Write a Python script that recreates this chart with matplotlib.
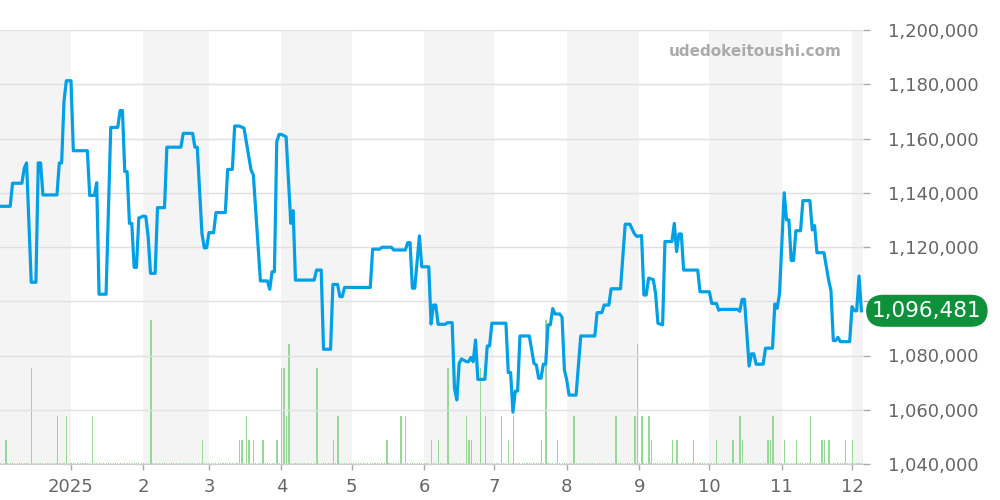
import numpy as np
import pandas as pd
import matplotlib
matplotlib.use('Agg')
import matplotlib.pyplot as plt
import matplotlib.dates as mdates
import matplotlib.transforms as mtransforms
from matplotlib.ticker import FuncFormatter, FixedLocator

start = pd.Timestamp('2024-12-01')

# day offsets from 2024-12-01 and prices (yen)
price_days = [1, 5, 6, 10, 11, 12, 14, 16, 17, 18, 19, 25, 26, 27, 28, 29, 31, 32, 38, 39,
              41, 42, 43, 46, 48, 51, 52, 53, 54, 55, 56, 57, 58, 59, 60, 62, 63, 64, 65, 67,
              68, 71, 72, 78, 79, 83, 84, 85, 87, 88, 89, 90, 92, 93, 97, 98, 100, 101, 103, 105,
              108, 109, 112, 115, 116, 117, 118, 119, 120, 121, 123, 125, 126, 127, 135, 136, 138, 139, 142, 143,
              145, 146, 147, 148, 159, 160, 163, 164, 168, 169, 174, 175, 176, 177, 178, 180, 181, 184, 185, 186,
              187, 188, 191, 192, 194, 195, 196, 197, 198, 200, 201, 202, 203, 204, 205, 208, 209, 210, 211, 217,
              218, 219, 220, 221, 222, 223, 227, 229, 230, 231, 232, 233, 234, 235, 236, 237, 238, 240, 241, 242,
              243, 244, 247, 249, 255, 256, 258, 259, 261, 262, 266, 268, 270, 272, 273, 275, 276, 277, 278, 280,
              281, 282, 284, 285, 288, 289, 290, 291, 292, 293, 299, 300, 304, 305, 307, 308, 309, 316, 317, 318,
              319, 321, 322, 323, 324, 327, 328, 331, 332, 333, 334, 336, 337, 338, 339, 340, 341, 343, 344, 347,
              348, 349, 350, 353, 355, 356, 357, 358, 359, 360, 364, 365, 366, 367, 368, 369]
price_values = [1135000, 1135000, 1143500, 1143500, 1149000, 1151000, 1107000, 1107000, 1151000, 1151000,
                1139200, 1139200, 1151000, 1151000, 1173600, 1181300, 1181300, 1155500, 1155500, 1139000,
                1139000, 1143700, 1102600, 1102600, 1164100, 1164100, 1170300, 1170300, 1147800, 1147800,
                1128700, 1128700, 1112500, 1112500, 1130700, 1131400, 1131200, 1123800, 1110300, 1110300,
                1134500, 1134500, 1156800, 1156800, 1161900, 1161900, 1156800, 1156800, 1125000, 1119700,
                1119700, 1125300, 1125300, 1132700, 1132700, 1148600, 1148600, 1164600, 1164600, 1163800,
                1148400, 1146500, 1107500, 1107500, 1104400, 1110900, 1110900, 1158800, 1161500, 1161500,
                1160600, 1128700, 1133400, 1107800, 1107800, 1111500, 1111500, 1082300, 1082300, 1106200,
                1106200, 1101700, 1101700, 1105100, 1105100, 1119200, 1119200, 1119900, 1119900, 1118900,
                1118900, 1121600, 1121600, 1104800, 1104800, 1124100, 1112700, 1112700, 1091600, 1098600,
                1098600, 1091500, 1091500, 1092100, 1092100, 1067900, 1063600, 1077100, 1078700, 1077800,
                1077700, 1079300, 1077700, 1085700, 1071200, 1071200, 1083500, 1083500, 1091900, 1091900,
                1073700, 1073700, 1059100, 1066900, 1066900, 1087200, 1087200, 1077100, 1076500, 1071600,
                1071600, 1076800, 1076800, 1091300, 1091300, 1097300, 1095300, 1095300, 1094100, 1074700,
                1071000, 1065400, 1065400, 1087200, 1087200, 1095800, 1095800, 1098600, 1098600, 1104600,
                1104600, 1128400, 1128400, 1124800, 1123900, 1124200, 1102300, 1102300, 1108500, 1108000,
                1102900, 1091900, 1091300, 1122000, 1122000, 1128700, 1118300, 1124800, 1124800, 1111500,
                1111500, 1103500, 1103500, 1099200, 1099200, 1096700, 1097000, 1097000, 1096300, 1100700,
                1100700, 1076100, 1080600, 1080600, 1076800, 1076800, 1082700, 1082700, 1099000, 1097400,
                1102900, 1140000, 1130000, 1130000, 1115000, 1115000, 1126000, 1126000, 1137100, 1137100,
                1126300, 1127900, 1117900, 1117900, 1107800, 1103900, 1085500, 1085500, 1086700, 1085100,
                1085100, 1098000, 1096500, 1096500, 1109300, 1096481]

volume_days = [3, 14, 25, 29, 40, 65, 87, 103, 104, 106, 107, 109, 113, 119, 121, 122, 123, 124, 136, 143,
               145, 166, 172, 174, 185, 188, 192, 200, 201, 202, 206, 208, 215, 218, 220, 232, 234, 239, 246, 264,
               272, 273, 275, 278, 279, 288, 290, 297, 307, 314, 317, 318, 329, 330, 331, 336, 341, 347, 352, 353,
               355, 362, 365]
volume_counts = [1, 4, 2, 2, 2, 6, 1, 1, 1, 2, 1, 1, 1, 1, 4, 4, 2, 5, 4, 1,
                 2, 1, 2, 2, 1, 1, 4, 2, 1, 1, 4, 2, 2, 1, 2, 1, 6, 1, 2, 2,
                 2, 5, 2, 2, 1, 1, 1, 1, 1, 1, 2, 1, 1, 1, 2, 1, 1, 2, 1, 1,
                 1, 1, 1]

month_labels = ['2025', '2', '3', '4', '5', '6', '7', '8', '9', '10', '11', '12']
price_ticks = [1040000, 1060000, 1080000, 1100000, 1120000, 1140000, 1160000, 1180000, 1200000]

assert len(price_days) == len(price_values)
assert len(volume_days) == len(volume_counts)

price_dates = mdates.date2num((start + pd.to_timedelta(price_days, unit='D')).to_pydatetime())
vol_dates = mdates.date2num((start + pd.to_timedelta(volume_days, unit='D')).to_pydatetime())
all_days = mdates.date2num(pd.date_range('2024-12-01', '2025-12-05', freq='D').to_pydatetime())

LINE = '#03a0e6'
BAR = '#96d896'
SHADE = '#f4f4f4'
GRID = '#e0e0e0'
TXT = '#666666'

fig = plt.figure(figsize=(10, 5), dpi=100)
ax = fig.add_axes([0.0, 0.072, 0.863, 0.868])
axp = ax.twinx()

x0 = mdates.date2num(start) + 0.64
x1 = mdates.date2num(start) + 369.7
ax.set_xlim(x0, x1)

# alternating month shading
months = pd.date_range('2024-12-01', '2026-01-01', freq='MS')
for i in range(len(months) - 1):
    if i % 2 == 0:
        ax.axvspan(mdates.date2num(months[i]), mdates.date2num(months[i + 1]),
                   color=SHADE, lw=0, zorder=0)

# volume bars
ax.bar(all_days, np.full(len(all_days), 0.06), width=0.45, color=BAR, lw=0, zorder=1)
ax.bar(vol_dates + 0.15, volume_counts, width=0.6, color=BAR, lw=0, zorder=2)
ax.set_ylim(0, 18.1)
ax.set_yticks([])

# price line
axp.plot(price_dates, price_values, color=LINE, lw=2.3, zorder=3,
         solid_joinstyle='round')
axp.set_ylim(1040000, 1200000)
axp.set_yticks(price_ticks)
axp.yaxis.set_major_formatter(FuncFormatter(lambda v, p: f'{int(v):,}'))
axp.grid(axis='y', color=GRID, lw=1)
axp.set_axisbelow(True)
axp.tick_params(axis='y', length=5, width=1, color='#aaaaaa', labelcolor=TXT,
                labelsize=13, pad=13)

tick_pos = mdates.date2num(pd.date_range('2025-01-01', '2025-12-01', freq='MS').to_pydatetime())
ax.xaxis.set_major_locator(FixedLocator(tick_pos))
ax.set_xticklabels(month_labels)
ax.tick_params(axis='x', length=4, width=1, color='#aaaaaa', labelcolor=TXT,
               labelsize=13, pad=6)

for a in (ax, axp):
    for s in a.spines.values():
        s.set_visible(False)
ax.spines['bottom'].set_visible(True)
ax.spines['bottom'].set_color('#cccccc')

# watermark
axp.text(0.875, 0.95, 'udedokeitoushi.com', transform=axp.transAxes,
         ha='center', va='center', fontsize=11, fontweight='bold', color='#aaaaaa')

# last value label
last = price_values[-1]
trans = mtransforms.blended_transform_factory(axp.transAxes, axp.transData)
axp.text(1.0105, last, f'{last:,}', transform=trans, ha='left', va='center',
         fontsize=15.5, color='white', clip_on=False, zorder=10,
         bbox=dict(boxstyle='round,pad=0.28,rounding_size=0.8', fc='#0f913c', ec='none'))

fig.savefig('out.png', dpi=100)
